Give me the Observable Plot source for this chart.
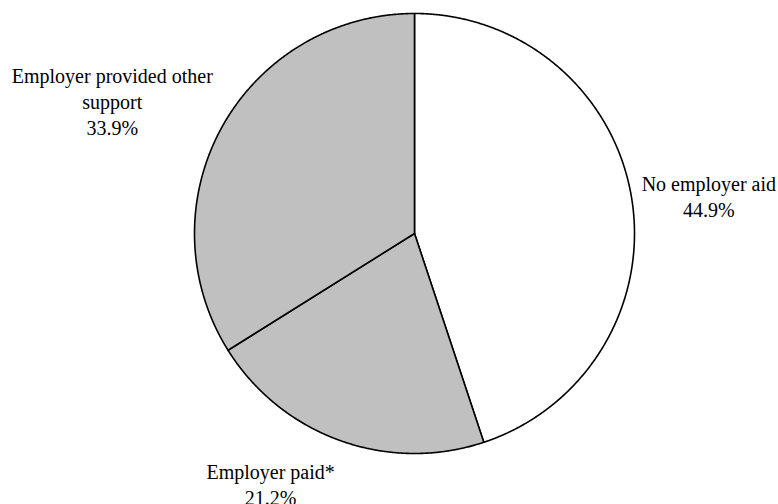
<!DOCTYPE html>
<html>
<head>
<meta charset="utf-8">
<script src="https://cdn.jsdelivr.net/npm/d3@7"></script>
<script src="https://cdn.jsdelivr.net/npm/@observablehq/plot@0.6"></script>
<style>
  html, body { margin: 0; padding: 0; background: #ffffff; }
  #chart svg { display: block; }
</style>
</head>
<body>
<div id="chart"></div>
<script>
// ---- data ----
const categories = ["No employer aid", "Employer paid*", "Employer provided other support"];
const shares = [44.9, 21.2, 33.9];
const labelNames = ["No employer aid", "Employer paid*", "Employer provided other\nsupport"];

// ---- styling / layout (kept apart from data) ----
const fills = ["#ffffff", "#c0c0c0", "#c0c0c0"];
const labelRadius = 1.3;                               // in radius units
const labelNudge = [[12, 8], [-47, -18.5], [-52, 6]];  // px tweaks per label
const R = 220;                                         // px per radius unit

// ---- build slices ----
const pie = d3.pie().sort(null).value(d => d)(shares);
const slicePoints = [];
pie.forEach((p, i) => {
  slicePoints.push({cat: categories[i], x: 0, y: 0});
  const n = Math.max(2, Math.ceil((p.endAngle - p.startAngle) / (Math.PI / 720)));
  for (let k = 0; k <= n; k++) {
    const a = p.startAngle + (p.endAngle - p.startAngle) * k / n;
    slicePoints.push({cat: categories[i], x: Math.sin(a), y: Math.cos(a)});
  }
});

const labelData = pie.map((p, i) => {
  const a = (p.startAngle + p.endAngle) / 2;
  return {
    x: labelRadius * Math.sin(a) + labelNudge[i][0] / R,
    y: labelRadius * Math.cos(a) - labelNudge[i][1] / R,
    text: `${labelNames[i]}\n${d3.format(".1f")(shares[i])}%`
  };
});

const chart = Plot.plot({
  width: 778,
  height: 504,
  margin: 0,
  style: {fontFamily: "Liberation Serif", background: "#ffffff"},
  x: {domain: [-1, 1], range: [194, 634], axis: null},
  y: {domain: [-1, 1], range: [453, 13], axis: null},
  color: {domain: categories, range: fills},
  marks: [
    Plot.line(slicePoints, {
      x: "x", y: "y", z: "cat", fill: "cat",
      stroke: "#000000", strokeWidth: 1.6, strokeLinejoin: "round",
      curve: "linear-closed"
    }),
    Plot.text(labelData, {
      x: "x", y: "y", text: "text",
      fontFamily: "Liberation Serif",
      fontSize: 20, lineHeight: 1.29, fill: "#000000", textAnchor: "middle"
    })
  ]
});
document.getElementById("chart").appendChild(chart);
</script>
</body>
</html>
